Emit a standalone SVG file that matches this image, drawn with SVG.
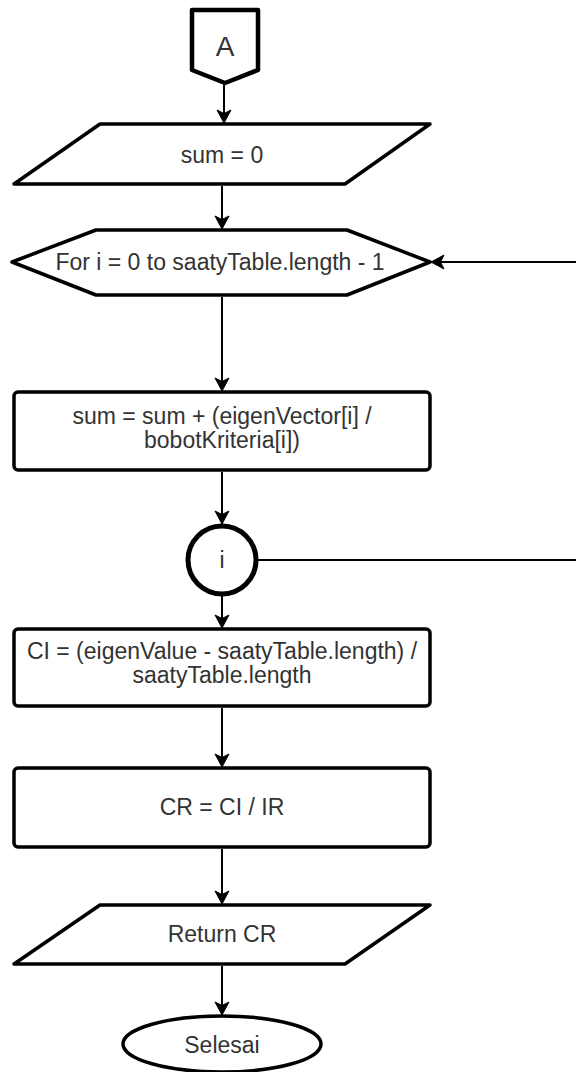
<svg xmlns="http://www.w3.org/2000/svg" width="576" height="1072" viewBox="0 0 576 1072">
  <style>
    .shape { fill: #ffffff; stroke: #000000; stroke-width: 3.5; stroke-linejoin: round; }
    .thick { stroke-width: 4.5; }
    .label { font-family: "Liberation Sans", Arial, sans-serif; font-size: 23px; fill: #333333; text-anchor: middle; }
    .edge { fill: none; stroke: #000000; stroke-width: 2; }
  </style>
  <defs>
    <marker id="arrow" markerUnits="userSpaceOnUse" markerWidth="16" markerHeight="16" viewBox="-14 -8 16 16" refX="0" refY="0" orient="auto">
      <path d="M0,0 L-13,-7 L-9.5,0 L-13,7 Z" fill="#000000" stroke="#000000" stroke-width="1" stroke-linejoin="miter"/>
    </marker>
  </defs>
  <rect width="576" height="1072" fill="#ffffff"/>

  <!-- off-page connector A -->
  <g id="node-a">
    <path class="shape thick" d="M192,10 H258 V70 L225,83 L192,70 Z"/>
    <text class="label" x="225" y="56" style="font-size:28px">A</text>
  </g>

  <!-- input: sum = 0 -->
  <g id="node-sum-init">
    <path class="shape" d="M100,124 H430 L345,184 H14 Z"/>
    <text class="label" x="222" y="163">sum = 0</text>
  </g>

  <!-- loop header -->
  <g id="node-for">
    <path class="shape" d="M12,262 L96,230 H347 L430,262 L347,295 H96 Z"/>
    <text class="label" x="220" y="270">For i = 0 to saatyTable.length - 1</text>
  </g>

  <!-- accumulate -->
  <g id="node-accumulate">
    <rect class="shape" x="14" y="392" width="416" height="78" rx="4"/>
    <text class="label" x="222" y="424">sum = sum + (eigenVector[i] /</text>
    <text class="label" x="222" y="448">bobotKriteria[i])</text>
  </g>

  <!-- loop end connector -->
  <g id="node-i">
    <circle class="shape" cx="222" cy="560" r="34" style="stroke-width:5"/>
    <text class="label" x="222" y="568">i</text>
  </g>

  <!-- consistency index -->
  <g id="node-ci">
    <rect class="shape" x="14" y="629" width="416" height="77" rx="4"/>
    <text class="label" x="222" y="659">CI = (eigenValue - saatyTable.length) /</text>
    <text class="label" x="222" y="683">saatyTable.length</text>
  </g>

  <!-- consistency ratio -->
  <g id="node-cr">
    <rect class="shape" x="14" y="768" width="416" height="79" rx="4"/>
    <text class="label" x="222" y="815">CR = CI / IR</text>
  </g>

  <!-- output -->
  <g id="node-return">
    <path class="shape" d="M100,905 H430 L345,964 H14 Z"/>
    <text class="label" x="222" y="942">Return CR</text>
  </g>

  <!-- terminator -->
  <g id="node-end">
    <ellipse class="shape" cx="222" cy="1044" rx="99" ry="28"/>
    <text class="label" x="222" y="1053">Selesai</text>
  </g>

  <g id="connectors">
    <line class="edge" x1="224" y1="84" x2="224" y2="123" marker-end="url(#arrow)"/>
    <line class="edge" x1="222" y1="186" x2="222" y2="229" marker-end="url(#arrow)"/>
    <line class="edge" x1="222" y1="297" x2="222" y2="391" marker-end="url(#arrow)"/>
    <line class="edge" x1="222" y1="472" x2="222" y2="524" marker-end="url(#arrow)"/>
    <line class="edge" x1="222" y1="596" x2="222" y2="628" marker-end="url(#arrow)"/>
    <line class="edge" x1="222" y1="708" x2="222" y2="767" marker-end="url(#arrow)"/>
    <line class="edge" x1="222" y1="849" x2="222" y2="904" marker-end="url(#arrow)"/>
    <line class="edge" x1="222" y1="966" x2="222" y2="1015" marker-end="url(#arrow)"/>
    <line class="edge" x1="576" y1="262" x2="431" y2="262" marker-end="url(#arrow)"/>
    <line class="edge" x1="258" y1="560" x2="576" y2="560"/>
  </g>
</svg>
